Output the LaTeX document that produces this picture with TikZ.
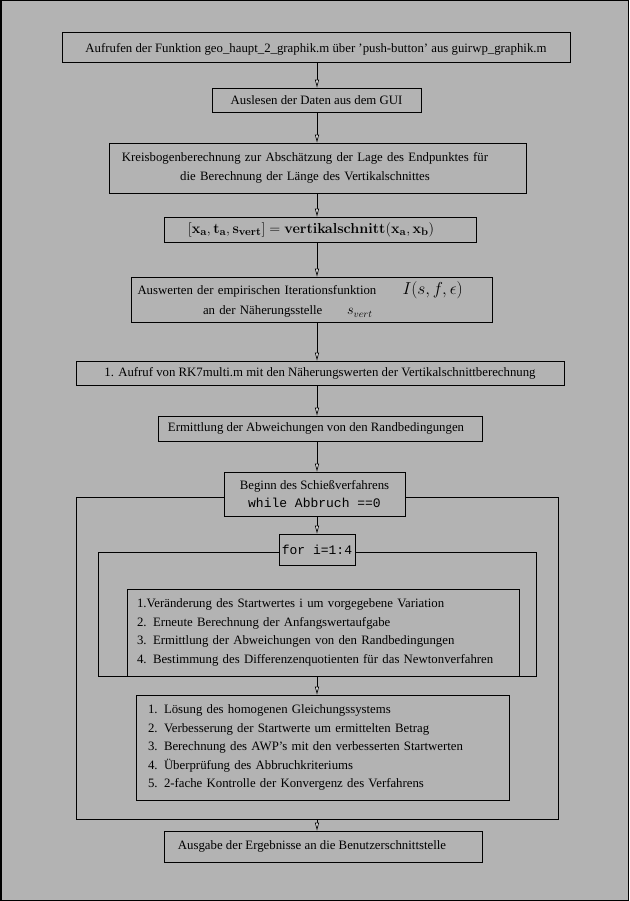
\documentclass[tikz,border=0pt]{standalone}
\usepackage[no-math]{fontspec}
\setmainfont{Liberation Serif}
\setmonofont{Liberation Mono}
\usepackage{amsmath,amssymb}
\usetikzlibrary{arrows.meta,calc}
\definecolor{bggray}{RGB}{179,179,179}

\begin{document}
\begin{tikzpicture}[x=1pt,y=-1pt,
  box/.style={draw,fill=bggray,line width=0.8pt,inner sep=0pt,font=\fontsize{12.8}{18.5}\selectfont},
  schleife/.style={draw,line width=0.8pt,inner sep=0pt},
  flow/.style={line width=0.7pt,-{Triangle[length=8pt,width=4pt,fill=white]}}]
\useasboundingbox (0,0) rectangle (629,901);
\draw[fill=bggray,line width=1.5pt] (0.75,0.75) rectangle (628.25,900.25);
\coordinate (achse) at (317,0);
% Schleifen
\node[schleife,minimum width=482,minimum height=322] (aussen) at (317,658) {};
\node[schleife,minimum width=438,minimum height=124] (innen) at (317,614) {};
% Kaesten
\node[box,minimum width=508,minimum height=30,text height=13pt,text depth=1pt] (auf) at (316,47)
  {Aufrufen der Funktion geo\_haupt\_2\_graphik.m über 'push-button' aus guirwp\_graphik.m};
\node[box,minimum width=209,minimum height=24] (aus) at (316.5,100) {Auslesen der Daten aus dem GUI};
\node[box,minimum width=417,minimum height=50,text width=417pt,align=center] (kreis) at (317.5,168)
  {\hspace*{-25pt}Kreisbogenberechnung zur Abschätzung der Lage des Endpunktes für\\
   \hspace*{-25pt}die Berechnung der Länge des Vertikalschnittes};
\node[box,minimum width=312,minimum height=25,font=\fontsize{15.5}{18}\selectfont] (vert) at (320,229.5)
  {\hspace*{-18pt}$[\mathbf{x_a},\mathbf{t_a},\mathbf{s_{vert}}]=\mathbf{vertikalschnitt}(\mathbf{x_a},\mathbf{x_b})$};
\node[box,minimum width=361,minimum height=45,text width=361pt,align=left] (iter) at (311.5,299.5)
  {\hspace*{6.5pt}\makebox[265pt][l]{Auswerten der empirischen Iterationsfunktion}{\fontsize{16}{18}\selectfont$I(s,f,\epsilon)$}\\[2pt]
   \hspace*{72pt}\makebox[144pt][l]{an der Näherungsstelle}{\fontsize{14}{18}\selectfont$s_{vert}$}};
\node[box,minimum width=488,minimum height=24] (rk) at (320,373)
  {1. Aufruf von RK7multi.m mit den Näherungswerten der Vertikalschnittberechnung};
\node[box,minimum width=324,minimum height=25] (rand) at (320,428.5)
  {\hspace*{-8pt}Ermittlung der Abweichungen von den Randbedingungen};
\node[box,minimum width=181,minimum height=44,align=center] (schiess) at (314.5,494)
  {Beginn des Schießverfahrens\\[-1pt] {\fontsize{13}{18}\ttfamily while Abbruch ==0}};
\node[box,minimum width=76,minimum height=31,font=\fontsize{13}{18}\ttfamily] (fori) at (317,549.5) {for i=1:4};
\node[box,minimum width=392,minimum height=87,inner xsep=10pt,text width=372pt,align=left] (liste1) at (323,632.5)
  {1.Veränderung des Startwertes i um vorgegebene Variation\\
   2. Erneute Berechnung der Anfangswertaufgabe\\
   3. Ermittlung der Abweichungen von den Randbedingungen\\
   4. Bestimmung des Differenzenquotienten für das Newtonverfahren};
\node[box,minimum width=373,minimum height=105,inner xsep=12pt,text width=349pt,align=left] (liste2) at (322.5,747.5)
  {1. Lösung des homogenen Gleichungssystems\\
   2. Verbesserung der Startwerte um ermittelten Betrag\\
   3. Berechnung des AWP's mit den verbesserten Startwerten\\
   4. Überprüfung des Abbruchkriteriums\\
   5. 2-fache Kontrolle der Konvergenz des Verfahrens};
\node[box,minimum width=318,minimum height=31] (ausgabe) at (323,846.5)
  {\hspace*{-22pt}Ausgabe der Ergebnisse an die Benutzerschnittstelle};
% Pfeile
\draw[flow] (auf.south -| achse) -- (aus.north -| achse);
\draw[flow] (aus.south -| achse) -- (kreis.north -| achse);
\draw[flow] (kreis.south -| achse) -- (vert.north -| achse);
\draw[flow] (vert.south -| achse) -- (iter.north -| achse);
\draw[flow] (iter.south -| achse) -- (rk.north -| achse);
\draw[flow] (rk.south -| achse) -- (rand.north -| achse);
\draw[flow] (rand.south -| achse) -- (schiess.north -| achse);
\draw[flow] (schiess.south -| achse) -- (fori.north -| achse);
\draw[flow] (innen.south -| achse) -- (liste2.north -| achse);
\draw[flow] (aussen.south -| achse) -- (ausgabe.north -| achse);
\end{tikzpicture}
\end{document}
